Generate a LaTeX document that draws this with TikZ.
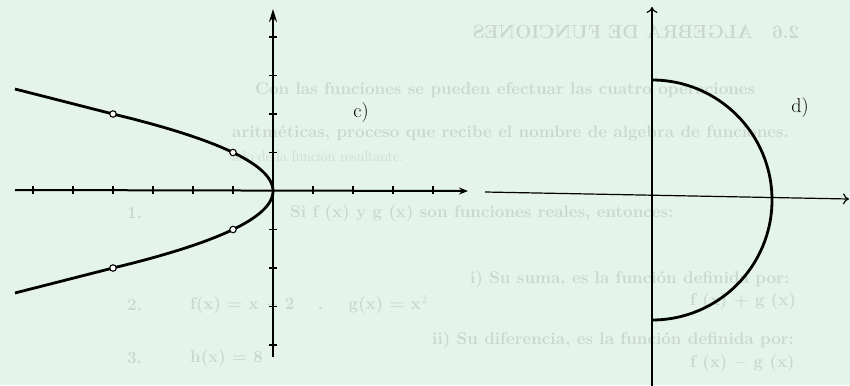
\documentclass[tikz,border=0pt]{standalone}
\usetikzlibrary{arrows.meta}
\definecolor{paper}{RGB}{229,244,234}
\definecolor{ghost}{RGB}{201,215,205}
\begin{document}
\begin{tikzpicture}[x=1pt,y=-1pt,
  axisc/.style={line width=2pt},
  axisd/.style={line width=1.2pt},
  graphline/.style={line width=2.8pt},
  tickmark/.style={line width=1.6pt},
  hole/.style={circle,draw,fill=white,line width=1.1pt,inner sep=0pt,minimum size=6.5pt},
  lab/.style={font=\fontsize{20}{22}\selectfont,inner sep=0pt},
  ghosttext/.style={text=ghost,font=\fontsize{17}{19}\selectfont\bfseries,inner sep=0pt,anchor=west}]
\fill[paper] (0,0) rectangle (850,385);
\useasboundingbox (0,0) rectangle (850,385);
% faint text showing through the page
\node[ghosttext,anchor=center,xscale=-1,font=\fontsize{19}{21}\selectfont\bfseries] (g1) at (636,32) {2.6\quad ALGEBRA DE FUNCIONES};
\node[ghosttext] (g2) at (255,90) {Con las funciones se pueden efectuar las cuatro operaciones};
\node[ghosttext] (g3) at (232,133) {aritm\'eticas, proceso que recibe el nombre de algebra de funciones.};
\node[ghosttext,font=\fontsize{15}{17}\selectfont] (g4) at (232,156) {ado de la funci\'on resultante.};
\node[ghosttext] (g5a) at (127,213) {1.};
\node[ghosttext] (g5) at (290,213) {Si f (x) y g (x) son funciones reales, entonces:};
\node[ghosttext] (g6) at (470,279) {i) Su suma, es la funci\'on definida por:};
\node[ghosttext] (g7a) at (127,305) {2.};
\node[ghosttext] (g7) at (190,305) {f(x) = x $-$ 2 \quad . \quad g(x) = x$^2$};
\node[ghosttext] (g7b) at (690,301) {f (x) + g (x)};
\node[ghosttext] (g8) at (432,340) {ii) Su diferencia, es la funci\'on definida por:};
\node[ghosttext] (g9a) at (127,358) {3.};
\node[ghosttext] (g9) at (190,358) {h(x) = 8};
\node[ghosttext] (g9b) at (690,363) {f (x) $-$ g (x)};
% ---------- graph c)
\coordinate (cL) at (15,190);
\coordinate (cR) at (468,191);
\coordinate (cB) at (273,357);
\coordinate (cT) at (273,9);
\draw[axisc,-{Stealth[length=9pt,width=7pt]}] (cL) -- (cR);
\draw[axisc,-{Stealth[length=13pt,width=8pt]}] (cB) -- (cT);
\foreach \k in {-6,-5,-4,-3,-2,-1,1,2,3,4}
  \draw[tickmark] ({273+40*\k},186) -- ({273+40*\k},194);
\foreach \k in {-4,-3,-2,-1,1,2,3,4}
  \draw[tickmark] (269,{191-38.5*\k}) -- (277,{191-38.5*\k});
\coordinate (cUp) at (15,89);
\coordinate (cDn) at (15,293);
\draw[graphline,line join=round] (cUp) -- plot[domain=2:-2,samples=81] ({273-40*\x*\x},{191-38.5*\x}) -- (cDn);
\node[hole] (h1) at (113,114) {};
\node[hole] (h2) at (233,152.5) {};
\node[hole] (h3) at (233,229.5) {};
\node[hole] (h4) at (113,268) {};
\node[lab] (lc) at (361,113) {c)};
% ---------- graph d)
\coordinate (dB) at (652,386);
\coordinate (dT) at (652,7);
\coordinate (dL) at (485,192);
\coordinate (dR) at (849,199);
\draw[axisd,-{To[length=6pt,width=11pt]}] (dB) -- (dT);
\draw[axisd,-{To[length=6pt,width=11pt]}] (dL) -- (dR);
\coordinate (dTop) at (652,80);
\draw[graphline] (dTop) arc[start angle=90,end angle=-90,radius=120pt] coordinate (dBot);
\node[lab] (ld) at (800,108) {d)};
\end{tikzpicture}
\end{document}
